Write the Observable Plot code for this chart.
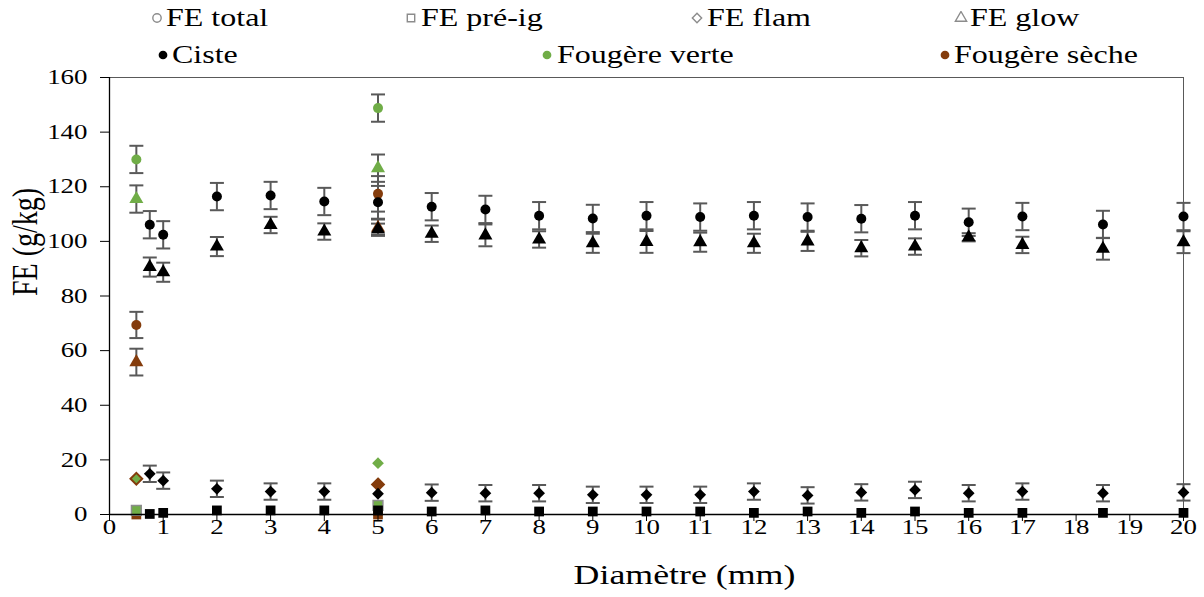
<!DOCTYPE html>
<html>
<head>
<meta charset="utf-8">
<script src="https://cdn.jsdelivr.net/npm/d3@7"></script>
<script src="https://cdn.jsdelivr.net/npm/@observablehq/plot@0.6"></script>
<style>
  body { margin: 0; background: #fff; }
  #wrap { position: relative; width: 1204px; height: 597px; overflow: hidden; font-family: "Liberation Serif", "Times New Roman", serif; }
  #legend { position: absolute; left: 0; top: 0; width: 1204px; height: 70px; z-index: 2; pointer-events: none; }
  .lt { position: absolute; font-size: 25px; line-height: 1; white-space: nowrap; transform-origin: 0 50%; transform: scaleX(1.28); color: #000; }
  .lm { position: absolute; }
  #chart { position: absolute; left: 0; top: 48px; }
  #chart svg { display: block; }
</style>
</head>
<body>
<div id="wrap">
  <div id="legend"></div>
  <div id="chart"></div>
</div>
<script>
// ---- data ----
const measureNames = ["FE total", "FE pré-ig", "FE flam", "FE glow"];
const seriesNames = ["Ciste", "Fougère verte", "Fougère sèche"];
const seriesColors = ["#000000", "#70AD47", "#843C0C"];

const cisteX = [0.75, 1, 2, 3, 4, 5, 6, 7, 8, 9, 10, 11, 12, 13, 14, 15, 16, 17, 18.5, 20];
const cisteTotal    = [106.1, 102.4, 116.4, 116.8, 114.6, 114.3, 112.7, 111.7, 109.4, 108.4, 109.4, 108.9, 109.4, 108.9, 108.3, 109.4, 107.0, 109.1, 106.2, 109.1];
const cisteTotalErr = [5, 5, 5, 5, 5, 6, 5, 5, 5, 5, 5, 5, 5, 5, 5, 5, 5, 5, 5, 5];
const cistePreig    = [0.2, 0.6, 1.5, 1.5, 1.5, 1.5, 1.1, 1.5, 1.1, 1.1, 1.1, 1.1, 0.6, 1.1, 0.6, 1.1, 0.6, 0.6, 0.6, 0.6];
const cisteFlam     = [14.9, 12.4, 9.4, 8.4, 8.4, 7.6, 8.0, 7.8, 7.8, 7.2, 7.2, 7.2, 8.4, 7.0, 8.1, 9.0, 7.8, 8.4, 7.8, 8.1];
const cisteFlamErr  = [3, 3, 3, 3, 3, 0, 3, 3, 3, 3, 3, 3, 3, 3, 3, 3, 3, 3, 3, 3];
const cisteGlow     = [90.6, 88.7, 98.1, 106.0, 103.6, 104.5, 102.8, 102.2, 100.7, 99.3, 99.8, 99.7, 99.3, 100.0, 97.5, 98.1, 101.5, 98.7, 97.3, 99.7];
const cisteGlowErr  = [3.5, 3.5, 3.5, 3, 3, 2, 3, 4, 3, 3.5, 4, 3.5, 3.5, 3.5, 3, 3, 1.5, 3, 4, 4];

const fougX = [0.5, 5];
const verteTotal    = [130.0, 148.8];
const verteTotalErr = [5, 5];
const vertePreig    = [1.5, 3.3];
const verteFlam     = [13.1, 18.8];
const verteGlow     = [115.5, 126.8];
const verteGlowErr  = [5, 5];

const secheTotal    = [69.4, 117.4];
const secheTotalErr = [4.8, 6.5];
const sechePreig    = [0.0, 0.0];
const secheFlam     = [13.1, 11.0];
const secheGlow     = [55.8, 105.0];
const secheGlowErr  = [4.9, 3];

const xTicks = d3.range(0, 21, 1);
const yTicks = d3.range(0, 161, 20);
const xLabel = "Diamètre (mm)";
const yLabel = "FE (g/kg)";

// ---- build table ----
const rows = [];
function add(series, xs, vals, errs, measure) {
  xs.forEach((x, i) => rows.push({series, measure, x, y: vals[i], err: errs ? errs[i] : 0}));
}
add("Ciste", cisteX, cisteTotal, cisteTotalErr, "FE total");
add("Ciste", cisteX, cistePreig, null, "FE pré-ig");
add("Ciste", cisteX, cisteFlam, cisteFlamErr, "FE flam");
add("Ciste", cisteX, cisteGlow, cisteGlowErr, "FE glow");
add("Fougère verte", fougX, verteTotal, verteTotalErr, "FE total");
add("Fougère verte", fougX, vertePreig, null, "FE pré-ig");
add("Fougère verte", fougX, verteFlam, null, "FE flam");
add("Fougère verte", fougX, verteGlow, verteGlowErr, "FE glow");
add("Fougère sèche", fougX, secheTotal, secheTotalErr, "FE total");
add("Fougère sèche", fougX, sechePreig, null, "FE pré-ig");
add("Fougère sèche", fougX, secheFlam, null, "FE flam");
add("Fougère sèche", fougX, secheGlow, secheGlowErr, "FE glow");

const errRows = rows.filter(d => d.err > 0);
const caps = errRows.flatMap(d => [{x: d.x, y: d.y + d.err}, {x: d.x, y: d.y - d.err}]);

const capSymbol = { draw(ctx) { ctx.moveTo(-7, 0); ctx.lineTo(7, 0); } };
const symbolOf = {"FE total": "circle", "FE pré-ig": "square", "FE flam": "diamond2", "FE glow": "triangle"};
const rOf = {"FE total": 5, "FE pré-ig": 5.5, "FE flam": 5.3, "FE glow": 5.2};
const colorOf = Object.fromEntries(seriesNames.map((s, i) => [s, seriesColors[i]]));

const marks = [
  Plot.frame({stroke: "#595959", strokeWidth: 1}),
  Plot.ruleX(errRows, {x: "x", y1: d => d.y - d.err, y2: d => d.y + d.err, stroke: "#595959", strokeWidth: 2}),
  Plot.dot(caps, {x: "x", y: "y", symbol: capSymbol, r: 7, fill: "none", stroke: "#595959", strokeWidth: 2})
];
const order = ["Fougère sèche", "Fougère verte", "Ciste"];
for (const s of order) {
  for (const m of measureNames) {
    const data = rows.filter(d => d.series === s && d.measure === m);
    const opts = {x: "x", y: "y", symbol: symbolOf[m], r: rOf[m], fill: colorOf[s], stroke: "none"};
    if (s === "Fougère verte" && m === "FE pré-ig") { opts.stroke = "#8c8c8c"; opts.strokeWidth = 1.5; }
    marks.push(Plot.dot(data, opts));
  }
  if (s === "Fougère verte") {
    // brown flam outline drawn over the green fill where they coincide
    marks.push(Plot.dot(rows.filter(d => d.series === "Fougère sèche" && d.measure === "FE flam"),
      {x: "x", y: "y", symbol: "diamond2", r: 5.3, fill: "none", stroke: colorOf["Fougère sèche"], strokeWidth: 2}));
  }
}
marks.push(
  Plot.ruleY([0], {stroke: "#000", strokeWidth: 1.3}),
  Plot.ruleX([0], {stroke: "#000", strokeWidth: 1.3}),
  Plot.axisX({ticks: xTicks, tickSize: 7, tickPadding: -2, tickFormat: d => String(d), label: null, fontSize: 21}),
  Plot.axisY({ticks: yTicks, tickSize: 9, tickPadding: 13, tickFormat: d => String(d), label: null, fontSize: 21}),
  Plot.text([xLabel], {text: d => d, frameAnchor: "bottom", dy: 69, dx: 38, fontSize: 28}),
  Plot.text([yLabel], {text: d => d, frameAnchor: "left", rotate: -90, dx: -84, fontSize: 28})
);

const chart = Plot.plot({
  width: 1204,
  height: 549,
  marginTop: 29,
  marginBottom: 83,
  marginLeft: 109,
  marginRight: 21,
  x: {domain: [0, 20]},
  y: {domain: [0, 160]},
  style: {fontFamily: "\"Liberation Serif\", \"Times New Roman\", serif", fontSize: "21px", color: "#000", background: "transparent"},
  marks
});

// horizontal stretch of text, like the reference picture
const S = 1.28;
for (const t of chart.querySelectorAll("text")) {
  const tr = t.getAttribute("transform");
  if (tr && /^\s*translate\(/.test(tr)) {
    t.setAttribute("transform", tr.replace(/^\s*(translate\([^)]*\))/, `$1 scale(${S},1)`));
  }
}
document.getElementById("chart").appendChild(chart);

// ---- legend ----
const legend = document.getElementById("legend");
const legendItems = [
  {label: measureNames[0], shape: "circle", open: true, color: "#8c8c8c", mx: 157, my: 18, tx: 166},
  {label: measureNames[1], shape: "square", open: true, color: "#8c8c8c", mx: 411, my: 18, tx: 421},
  {label: measureNames[2], shape: "diamond", open: true, color: "#8c8c8c", mx: 697, my: 18, tx: 707},
  {label: measureNames[3], shape: "triangle", open: true, color: "#8c8c8c", mx: 961, my: 18, tx: 970},
  {label: seriesNames[0], shape: "circle", open: false, color: seriesColors[0], mx: 163, my: 55, tx: 172},
  {label: seriesNames[1], shape: "circle", open: false, color: seriesColors[1], mx: 547, my: 55, tx: 557},
  {label: seriesNames[2], shape: "circle", open: false, color: seriesColors[2], mx: 945, my: 55, tx: 954}
];
const symMap = {circle: d3.symbolCircle, square: d3.symbolSquare, diamond: d3.symbolDiamond2, triangle: d3.symbolTriangle};
for (const it of legendItems) {
  const sz = 14;
  const svg = d3.create("svg").attr("class", "lm").attr("width", sz).attr("height", sz)
    .style("left", (it.mx - sz / 2) + "px").style("top", (it.my - sz / 2) + "px");
  svg.append("path")
    .attr("transform", `translate(${sz / 2},${sz / 2})`)
    .attr("d", d3.symbol(symMap[it.shape], it.open ? 55 : 60)())
    .attr("fill", it.open ? "none" : it.color)
    .attr("stroke", it.open ? it.color : "none")
    .attr("stroke-width", 1.4);
  legend.appendChild(svg.node());
  const div = document.createElement("div");
  div.className = "lt";
  div.textContent = it.label;
  div.style.left = it.tx + "px";
  div.style.top = (it.my - 13) + "px";
  legend.appendChild(div);
}
</script>
</body>
</html>
